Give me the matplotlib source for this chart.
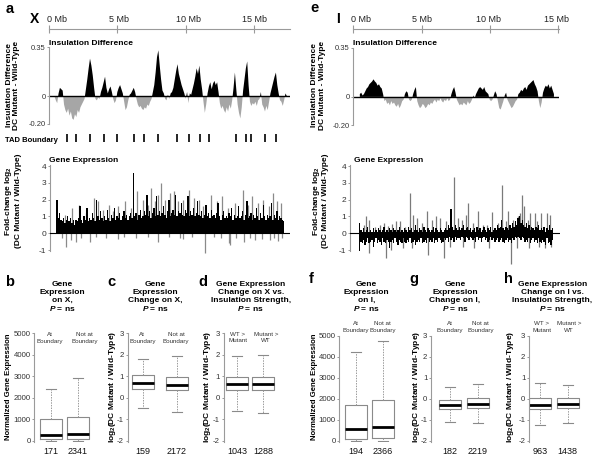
import numpy as np
import matplotlib
matplotlib.use('Agg')
import matplotlib.pyplot as plt

plt.rcParams['font.family'] = ['Liberation Sans', 'DejaVu Sans']
plt.rcParams['mathtext.fontset'] = 'custom'
plt.rcParams['mathtext.rm'] = 'Liberation Sans:bold'
plt.rcParams['mathtext.it'] = 'Liberation Sans:italic:bold'
plt.rcParams['mathtext.bf'] = 'Liberation Sans:bold'
plt.rcParams['axes.unicode_minus'] = False

# ---------------- data ----------------
mb_ticks_x = [0, 5, 10, 15]
mb_ticks_i = [0, 5, 10, 15]

# insulation difference, 0.1 Mb bins
x_ins_start = 0.4
x_ins = [0.0, -0.03, -0.05, 0.02, 0.06, 0.05,
         0.04, -0.06, -0.10, -0.12, -0.09, -0.14, -0.11, -0.16, -0.17, -0.13,
         -0.15, -0.10, -0.12, -0.08, -0.06, -0.04, -0.02, 0.05, 0.12, 0.20,
         0.27, 0.22, 0.15, 0.06, -0.02, -0.03, -0.01, -0.02, 0.03, 0.06,
         0.10, 0.14, 0.06, 0.02, 0.05, 0.07, 0.03, -0.02, -0.05, -0.03,
         0.03, 0.06, 0.08, 0.05, 0.02, -0.04, -0.10, -0.08, -0.03, 0.01,
         0.02, 0.04, 0.06, 0.03, -0.02, -0.06, -0.08, -0.07, -0.09, -0.10,
         -0.08, -0.09, -0.06, -0.07, -0.04, -0.02, 0.03, 0.08, 0.17, 0.28,
         0.33, 0.22, 0.12, 0.04, 0.02, -0.02, -0.03, 0.01, -0.02, 0.02,
         0.03, 0.06, 0.12, 0.18, 0.23, 0.16, 0.12, 0.08, 0.05, 0.02,
         -0.02, 0.03, -0.05, 0.02, 0.01, 0.05, 0.09, 0.14, 0.20, 0.16,
         0.22, 0.12, 0.05, -0.04, -0.12, -0.06, 0.02, 0.07, 0.10, 0.05,
         0.09, 0.11, 0.08, 0.10, 0.03, -0.05, -0.09, -0.07, -0.10, -0.12,
         -0.08, -0.11, -0.06, -0.09, -0.03, 0.06, 0.17, 0.05, -0.06, -0.12,
         -0.16, -0.08, 0.04, 0.12, 0.20, 0.25, 0.08, -0.04, -0.07, -0.05,
         -0.06, -0.04, -0.07, -0.03, -0.02, 0.03, -0.06, -0.08, -0.11, -0.07,
         -0.10, -0.04, 0.02, 0.06, 0.10, 0.14, 0.17, 0.08, 0.02, -0.03,
         -0.04, -0.07, -0.03, 0.02, 0.0]

i_ins_start = 0.5
i_ins = [0.02, 0.03, 0.01, 0.02, 0.04,
         0.06, 0.07, 0.09, 0.10, 0.11, 0.125, 0.11, 0.10, 0.08, 0.09,
         0.07, 0.06, 0.02, -0.03, -0.02, -0.05, -0.04, -0.06, -0.03, -0.05,
         -0.04, -0.06, -0.07, -0.05, -0.08, -0.06, -0.03, -0.02, 0.02, 0.04,
         0.03, -0.02, -0.03, -0.02, 0.02, 0.05, 0.07, -0.03, -0.06, -0.08,
         -0.07, -0.05, -0.06, -0.08, -0.07, -0.05, -0.06, -0.04, -0.05, -0.03,
         -0.02, -0.04, -0.02, -0.03, -0.01, -0.03, -0.04, -0.02, -0.03, -0.01,
         -0.03, -0.02, 0.02, 0.05, 0.07, 0.03, -0.02, -0.04, -0.06, -0.05,
         -0.06, -0.04, -0.05, -0.06, -0.03, -0.05, -0.04, -0.02, 0.01, -0.01,
         0.02, 0.04, 0.06, 0.07, 0.06, 0.05, 0.07, 0.04, 0.03, 0.02,
         -0.02, -0.03, -0.02, 0.01, 0.04, 0.02, -0.03, -0.08, -0.09, -0.06,
         -0.03, 0.01, 0.03, -0.02, -0.04, -0.06, -0.08, -0.07, -0.05, -0.03,
         -0.02, 0.02, 0.03, 0.05, 0.04, 0.06, 0.07, 0.05, 0.08, 0.09,
         0.10, 0.11, 0.12, 0.09, 0.07, 0.04, -0.03, -0.08, -0.04, 0.03,
         0.06, 0.08, 0.07, 0.09, 0.06, 0.08, 0.05, 0.02]

tad_boundaries_x = [1.32, 1.98, 3.0, 4.02, 4.97, 6.22, 6.95, 7.97, 9.36, 10.24,
                    11.05, 11.7, 13.68, 14.41, 14.78, 15.8, 16.6]

# gene expression, chromosome X
x_exp_start = 0.5
x_exp_black = [2.0, 0.9, 1.2, 0.8, 0.7,
               0.9, 0.6, 0.8, 1.0, 0.7, 0.9, 0.6, 0.8, 0.5, 0.8,
               0.7, 0.9, 1.6, 0.8, 0.6, 1.0, 0.8, 1.5, 0.7, 0.9,
               0.8, 1.2, 0.9, 0.7, 2.0, 1.0, 0.8, 1.3, 0.9, 0.7,
               1.0, 0.8, 1.4, 0.9, 0.7, 1.1, 0.9, 1.5, 0.8, 1.0,
               0.9, 1.2, 0.8, 1.0, 1.3, 0.9, 1.1, 0.8, 1.0, 1.2,
               0.9, 3.6, 1.0, 1.2, 0.8, 1.1, 1.4, 0.9, 1.0, 1.3,
               1.1, 2.3, 1.0, 1.3, 0.9, 1.2, 1.5, 1.0, 2.2, 1.1,
               1.3, 1.0, 1.2, 1.6, 1.1, 0.9, 1.3, 2.0, 1.0, 1.2,
               1.4, 1.1, 2.3, 1.0, 1.3, 1.2, 1.8, 1.1, 1.0, 1.4,
               1.2, 2.2, 1.0, 1.3, 1.1, 1.5, 1.0, 1.2, 1.9, 1.1,
               1.0, 1.3, 0.9, 1.1, 1.7, 1.0, 1.2, 0.9, 1.4, 1.0,
               1.1, 0.9, 1.2, 1.8, 1.0, 0.8, 1.1, 1.3, 0.9, 1.0,
               0.9, 1.2, 1.0, 1.5, 0.8, 1.1, 0.9, 1.0, 1.6, 0.9,
               1.0, 1.3, 0.8, 1.1, 1.9, 0.9, 1.0, 1.2, 0.8, 1.1,
               0.9, 1.5, 1.0, 0.8, 1.2, 0.9, 1.7, 1.0, 0.8, 1.1,
               0.9, 1.0, 1.8, 0.8, 1.1, 0.9, 1.3, 0.8, 1.0, 0.9,
               0.8, 0.7]
x_gray_pos = [1.1, 1.6, 2.1, 2.6, 3.2, 3.5, 3.9, 4.3, 4.6, 5.0, 5.5, 5.9, 6.4, 6.8,
              7.2, 7.4, 7.7, 7.9, 8.1, 8.4, 8.8, 9.1, 9.4, 9.7, 10.2, 10.5, 10.9,
              11.2, 11.8, 12.2, 12.6, 13.0, 13.5, 14.1, 14.5, 14.8, 15.2, 15.6,
              16.0, 16.3, 16.6, 16.9,
              0.9, 1.2, 1.5, 1.9, 2.3, 2.9, 3.4, 4.1, 5.0, 5.4, 6.3, 7.2, 7.9,
              8.7, 9.5, 9.7, 10.4, 11.35, 12.0, 12.5, 13.1, 13.2, 13.6, 14.2,
              14.6, 15.0, 15.5, 16.1, 16.4, 16.7, 17.0]
x_gray_val = [1.1, 1.5, 1.7, 1.2, 2.1, 1.9, 1.4, 1.7, 1.3, 1.6, 1.9, 1.5, 2.5, 2.0,
              1.7, 2.7, 1.9, 2.3, 3.0, 2.0, 2.4, 2.5, 1.9, 2.0, 2.6, 2.1, 2.0,
              1.6, 2.3, 1.9, 2.2, 1.5, 1.8, 2.6, 1.7, 2.2, 1.8, 2.0,
              1.6, 2.4, 1.9, 1.8,
              -0.3, -0.8, -0.4, -0.5, -0.3, -0.5, -0.2, -0.3, -0.35, -0.2, -0.3,
              -0.25, -0.5, -0.2, -0.3, -0.35, -0.2, -1.2, -0.25, -0.3, -0.6, -0.7,
              -0.3, -0.5, -0.3, -0.4, -0.35, -0.4, -0.3, -0.45, -0.3]

# gene expression, chromosome I
i_exp_start = 0.7
i_exp_up = [0.6, 0.2, 0.1,
            0.3, 0.1, 0.2, 0.4, 0.1, 0.2, 0.1, 0.3, 0.1, 0.2,
            0.1, 0.3, 0.2, 0.1, 0.2, 0.4, 0.1, 0.2, 0.1, 0.3,
            0.2, 0.1, 0.3, 0.2, 0.1, 0.2, 0.4, 0.1, 0.2, 0.1,
            0.3, 0.2, 0.1, 0.4, 0.2, 0.3, 0.1, 0.2, 0.5, 0.2,
            0.1, 0.3, 0.2, 0.1, 0.4, 0.2, 0.1, 0.3, 0.2, 0.1,
            0.2, 0.4, 0.1, 0.3, 0.2, 0.1, 0.3, 0.2, 0.1, 0.2,
            0.3, 0.2, 0.5, 0.3, 1.45, 0.4, 0.2, 0.5, 0.3, 0.2,
            0.4, 0.2, 0.3, 0.5, 0.2, 0.3, 0.4, 0.2, 0.3, 0.1,
            0.2, 0.3, 0.1, 0.4, 0.2, 0.3, 0.1, 0.2, 0.4, 0.2,
            0.1, 0.3, 0.2, 0.4, 0.1, 0.2, 0.3, 0.2, 0.5, 0.3,
            0.4, 0.8, 0.3, 0.2, 0.4, 0.3, 0.2, 0.5, 0.3, 0.6,
            0.4, 0.7, 0.5, 0.9, 1.0, 0.6, 0.8, 0.5, 0.4, 0.6,
            0.3, 0.5, 0.2, 0.4, 0.3, 0.2, 0.4, 0.3, 0.5, 0.2,
            0.3, 0.2, 0.4, 0.1, 0.3, 0.2, 0.5, 0.2, 0.3]
i_exp_down = [-1.4, -0.5, -0.6,
              -0.4, -0.7, -0.5, -0.3, -0.6, -0.5, -0.4, -0.8, -0.5, -0.3,
              -0.6, -0.4, -0.5, -0.7, -0.3, -0.5, -0.6, -0.4, -0.5, -0.9,
              -0.5, -0.4, -0.6, -0.3, -0.5, -0.7, -0.4, -0.5, -0.6, -0.3,
              -0.5, -0.6, -0.4, -0.5, -0.3, -0.6, -0.5, -0.4, -0.7, -0.5,
              -0.4, -0.5, -0.3, -0.6, -0.5, -0.4, -0.6, -0.3, -0.5, -0.4,
              -0.5, -0.3, -0.6, -0.4, -0.5, -0.3, -0.4, -0.6, -0.5, -0.3,
              -0.4, -0.3, -0.5, -0.2, -0.4, -0.3, -0.5, -0.2, -0.4, -0.3,
              -0.3, -0.4, -0.2, -0.3, -0.5, -0.2, -0.3, -0.4, -0.2, -0.3,
              -0.4, -0.3, -0.5, -0.2, -0.4, -0.3, -0.5, -0.3, -0.2, -0.4,
              -0.3, -0.5, -0.4, -0.2, -0.4, -0.3, -0.5, -0.4, -0.3, -0.5,
              -0.4, -0.3, -0.5, -0.6, -0.4, -0.3, -0.5, -0.4, -0.6, -0.3,
              -0.4, -0.2, -0.3, -0.2, -0.3, -0.4, -0.2, -0.3, -0.5, -0.4,
              -0.5, -0.3, -0.6, -0.4, -0.3, -0.5, -0.4, -0.6, -0.3, -0.5,
              -0.6, -0.4, -0.5, -0.7, -0.3, -0.6, -0.5, -0.7, -0.4]
i_gray_pos = [1.0, 1.2, 1.4, 1.8, 2.2, 2.5, 2.8, 3.1, 3.4, 3.65, 4.0, 4.39, 4.6, 4.9,
              5.3, 5.66, 6.0, 6.3, 6.6, 7.0, 7.6, 7.9, 8.2, 8.5, 8.66, 9.0, 9.39,
              9.7, 10.0, 10.4, 10.8, 11.14, 11.4, 11.58, 11.95, 12.3, 12.4, 12.6,
              12.7, 13.0, 13.2, 13.5, 13.7, 14.0, 14.4, 14.6,
              1.39, 2.6, 3.0, 3.9, 4.5, 5.7, 6.88, 7.3, 8.3, 9.1, 10.2, 11.78,
              12.2, 13.1, 13.8, 14.3, 14.7]
i_gray_val = [0.5, 1.05, 0.8, 0.4, 0.5, 0.6, 0.45, 0.55, 0.75, 0.7, 0.4, 2.4, 1.1, 0.9,
              0.6, 1.3, 0.8, 1.0, 0.9, 0.7, 3.35, 0.9, 0.8, 1.1, 1.8, 0.6, 1.35,
              0.5, 0.5, 1.25, 0.6, 2.9, 0.7, 1.3, 0.8, 1.0, 1.2, 2.25,
              1.6, 0.8, 1.2, 1.2, 0.7, 1.2, 1.2, 1.1,
              -1.2, -1.45, -1.0, -0.9, -0.9, -1.3, -1.5, -0.8, -0.8, -0.9, -0.9, -1.85,
              -0.9, -0.9, -0.8, -0.9, -0.8]

# box plots
box_groups_b = ['At\nBoundary', 'Not at\nBoundary']
box_groups_d = ['WT >\nMutant', 'Mutant >\nWT']
counts = {'b': ['171', '2341'], 'c': ['159', '2172'], 'd': ['1043', '1288'],
          'f': ['194', '2366'], 'g': ['182', '2219'], 'h': ['963', '1438']}
box_med = {'b': [265, 295], 'c': [0.68, 0.60], 'd': [0.64, 0.63],
           'f': [580, 660], 'g': [-0.32, -0.27], 'h': [-0.32, -0.25]}
box_q1 = {'b': [60, 60], 'c': [0.42, 0.34], 'd': [0.34, 0.34],
          'f': [60, 130], 'g': [-0.48, -0.45], 'h': [-0.48, -0.45]}
box_q3 = {'b': [990, 1115], 'c': [1.05, 0.97], 'd': [0.98, 0.98],
          'f': [1700, 1940], 'g': [-0.05, 0.05], 'h': [0.03, 0.05]}
box_lo = {'b': [0, 0], 'c': [-0.50, -0.65], 'd': [-0.60, -0.70],
          'f': [0, 0], 'g': [-1.10, -1.15], 'h': [-1.27, -1.15]}
box_hi = {'b': [2390, 2900], 'c': [1.80, 1.93], 'd': [1.95, 2.00],
          'f': [4230, 4760], 'g': [0.58, 0.73], 'h': [0.77, 0.68]}

# ---------------- figure ----------------
W, H = 600, 458
fig = plt.figure(figsize=(6, 4.58), dpi=100)
SP = '#9a9a9a'
TL = '#333333'
PXMB = 13.67


def add_ax(l, t, r, b):
    return fig.add_axes([l / W, 1 - b / H, (r - l) / W, (b - t) / H])


def ftext(x, y, s, **kw):
    fig.text(x / W, 1 - y / H, s, **kw)


def scale_axis(l, r, ticks, label_x):
    ax = add_ax(l, 29, r, 35)
    ax.set_xlim(0, (r - l) / PXMB)
    for s in ['left', 'right', 'bottom']:
        ax.spines[s].set_visible(False)
    ax.spines['top'].set_color(SP)
    ax.spines['top'].set_linewidth(0.8)
    ax.set_yticks([])
    ax.set_xticks(ticks)
    ax.tick_params(axis='x', top=True, bottom=False, labeltop=False, labelbottom=False,
                   direction='inout', length=6, width=0.8, color=SP)
    ax.patch.set_visible(False)
    for t, xc in zip(ticks, label_x):
        ftext(xc, 21.7, f'{t} Mb', fontsize=6.5, color='#222', ha='center', va='baseline')


def style_left(ax, fs=5.5):
    for s in ['top', 'right', 'bottom']:
        ax.spines[s].set_visible(False)
    ax.spines['left'].set_color(SP)
    ax.spines['left'].set_linewidth(0.8)
    ax.tick_params(axis='y', direction='out', length=1.8, width=0.7, color=SP,
                   labelsize=fs, labelcolor=TL, pad=0.8)
    ax.patch.set_visible(False)


def ins_axis(l, t, r, b, start, vals):
    ax = add_ax(l, t, r, b)
    x = start + 0.1 * np.arange(len(vals))
    y = np.array(vals)
    ax.fill_between(x, 0, y, where=y >= 0, interpolate=True, color='black', lw=0)
    ax.fill_between(x, 0, y, where=y <= 0, interpolate=True, color='#a6a6a6', lw=0)
    ax.axhline(0, color='black', lw=1.0)
    ax.set_xlim(0, (r - l) / PXMB)
    ax.set_ylim(-0.2, 0.35)
    ax.set_yticks([0.35, 0, -0.2])
    ax.set_yticklabels(['0.35', '0', '-0.20'])
    ax.set_xticks([])
    style_left(ax)
    return ax


# panel letters
for lab, x, y in [('a', 9.5, 12.7), ('e', 314.5, 11.7), ('b', 10, 286.5), ('c', 111, 286.5),
                  ('d', 203, 286.5), ('f', 311.5, 283), ('g', 414, 283.5), ('h', 508, 283)]:
    ftext(x, y, lab, fontsize=10.5, fontweight='bold', ha='center', va='baseline')
ftext(34, 22.7, 'X', fontsize=10, fontweight='bold', ha='center', va='baseline')
ftext(337.7, 23.3, 'I', fontsize=10, fontweight='bold', ha='center', va='baseline')

scale_axis(49, 290, mb_ticks_x, [57, 119.3, 188.3, 254.5])
scale_axis(353.3, 559.5, mb_ticks_i, [361, 421.7, 488, 556.7])

# insulation
ins_axis(49, 47.5, 290, 124, x_ins_start, x_ins)
ins_axis(353, 47.7, 559, 125, i_ins_start, i_ins)
ftext(49.3, 45, 'Insulation Difference', fontsize=6, fontweight='bold', ha='left', va='baseline')
ftext(353.3, 45, 'Insulation Difference', fontsize=6, fontweight='bold', ha='left', va='baseline')
for xc in [12.9, 318.7]:
    ftext(xc, 85, 'Insulation Difference\nDC Mutant - Wild-Type', fontsize=6, fontweight='bold',
          rotation=90, ha='center', va='center', linespacing=1.15)

# TAD boundaries
axt = add_ax(49, 134.5, 290, 142.5)
axt.vlines(tad_boundaries_x, 0, 1, color='black', lw=1.2)
axt.set_xlim(0, 241 / PXMB)
axt.set_ylim(0, 1)
axt.axis('off')
ftext(5, 141.5, 'TAD Boundary', fontsize=5.5, fontweight='bold', ha='left', va='baseline')

# gene expression
def exp_axis(l, r):
    ax = add_ax(l, 165.2, r, 250.9)
    ax.set_xlim(0, (r - l) / PXMB)
    ax.set_ylim(-1.05, 4.05)
    ax.set_yticks([-1, 0, 1, 2, 3, 4])
    ax.set_xticks([])
    style_left(ax, fs=6)
    return ax

axe = exp_axis(50, 290)
axe.vlines(x_gray_pos, 0, x_gray_val, color='#8a8a8a', lw=0.9, zorder=1, clip_on=False)
xb = x_exp_start + 0.1 * np.arange(len(x_exp_black))
axe.bar(xb, x_exp_black, width=0.1, color='black', lw=0, zorder=2)
axe.axhline(0, color='black', lw=0.8, zorder=3)

axi = exp_axis(350, 560)
axi.vlines(i_gray_pos, 0, i_gray_val, color='#7a7a7a', lw=0.9, zorder=1, clip_on=False)
xi = i_exp_start + 0.1 * np.arange(len(i_exp_up))
axi.bar(xi, i_exp_up, width=0.1, color='black', lw=0, zorder=2)
axi.bar(xi, i_exp_down, width=0.1, color='black', lw=0, zorder=2)
axi.axhline(0, color='black', lw=0.8, zorder=3)

ftext(49.3, 161.7, 'Gene Expression', fontsize=6, fontweight='bold', ha='left', va='baseline')
ftext(354.3, 161.7, 'Gene Expression', fontsize=6, fontweight='bold', ha='left', va='baseline')
for xc in [12.3, 320]:
    ftext(xc, 201, 'Fold-change log$_2$\n(DC Mutant / Wild-Type)', fontsize=6,
          fontweight='bold', rotation=90, ha='center', va='center', linespacing=1.15)

# box plots
def box_axis(key, spine, c1, c2, top, bottom, ylim, yticks, ylabel, ylab_x, yfs=6):
    ppu = c2 - c1
    left = 1 - (c1 - spine) / ppu
    right = 2.7
    r = spine + (right - left) * ppu
    ax = add_ax(spine, top, r, bottom)
    stats = []
    for k in range(2):
        stats.append(dict(med=box_med[key][k], q1=box_q1[key][k], q3=box_q3[key][k],
                          whislo=box_lo[key][k], whishi=box_hi[key][k], fliers=[]))
    ax.bxp(stats, positions=[1, 2], widths=22 / ppu, showfliers=False,
           capwidths=10 / ppu,
           boxprops=dict(color='#8a8a8a', lw=0.8),
           whiskerprops=dict(color='#9a9a9a', lw=0.7, linestyle=(0, (1.5, 1.2))),
           capprops=dict(color='#8a8a8a', lw=0.8),
           medianprops=dict(color='black', lw=2.0))
    ax.set_xlim(left, right)
    ax.set_ylim(*ylim)
    ax.set_yticks(yticks)
    style_left(ax, fs=5.6)
    ax.set_xticks([1, 2])
    ax.set_xticklabels(counts[key])
    ax.tick_params(axis='x', length=0, labelsize=6.5, pad=3.5, labelcolor='#111')
    ftext(ylab_x, 386.7, ylabel, fontsize=yfs, fontweight='bold', rotation=90,
          ha='center', va='center')
    return ax

NGE = 'Normalized Gene Expression'
LOG = 'log$_2$(DC Mutant / Wild-Type)'
box_axis('b', 34.3, 50.7, 77.5, 333.3, 441.8, (-50, 5000), [0, 1000, 2000, 3000, 4000, 5000], NGE, 8.3, 5.6)
box_axis('c', 127.5, 143, 177, 333.3, 441.8, (-2.05, 3.0), [-2, -1, 0, 1, 2, 3], LOG, 112)
box_axis('d', 223.5, 237.2, 263.2, 333.3, 441.8, (-2.05, 3.0), [-2, -1, 0, 1, 2, 3], LOG, 207.5)
box_axis('f', 339.3, 355.8, 382.5, 336, 441.7, (-50, 5000), [0, 1000, 2000, 3000, 4000, 5000], NGE, 315, 5.6)
box_axis('g', 431, 450, 477.5, 336, 441.7, (-2.05, 3.0), [-2, -1, 0, 1, 2, 3], LOG, 416.3)
box_axis('h', 529, 540.4, 567.7, 336, 441.7, (-2.05, 3.0), [-2, -1, 0, 1, 2, 3], LOG, 510.7)

# box titles
P = '$\\mathit{P}$ = ns'
titles = [(62.3, ['Gene', 'Expression', 'on X,', P]),
          (155.7, ['Gene', 'Expression', 'Change on X,', P]),
          (250.7, ['Gene Expression', 'Change on X vs.', 'Insulation Strength,', P]),
          (366.7, ['Gene', 'Expression', 'on I,', P]),
          (455, ['Gene', 'Expression', 'Change on I,', P]),
          (552.3, ['Gene Expression', 'Change on I vs.', 'Insulation Strength,', P])]
for xc, lines in titles:
    for j, s in enumerate(lines):
        ftext(xc, 285.7 + 8.3 * j, s, fontsize=6, fontweight='bold', ha='center', va='baseline')

# box group labels
grp = [(50, 84.3, box_groups_b, 335.5), (142.3, 176, box_groups_b, 335.5),
       (237.7, 265.7, box_groups_d, 335.5), (355.7, 382.7, box_groups_b, 325.3),
       (450, 480.7, box_groups_b, 325.3), (541.7, 569, box_groups_d, 325.3)]
for x1, x2, labs, yb in grp:
    for xc, s in zip([x1, x2], labs):
        l1, l2 = s.split('\n')
        ftext(xc, yb, l1, fontsize=4.5, color='#333', ha='center', va='baseline')
        ftext(xc, yb + 7, l2, fontsize=4.5, color='#333', ha='center', va='baseline')

fig.savefig('out.png', dpi=100)
